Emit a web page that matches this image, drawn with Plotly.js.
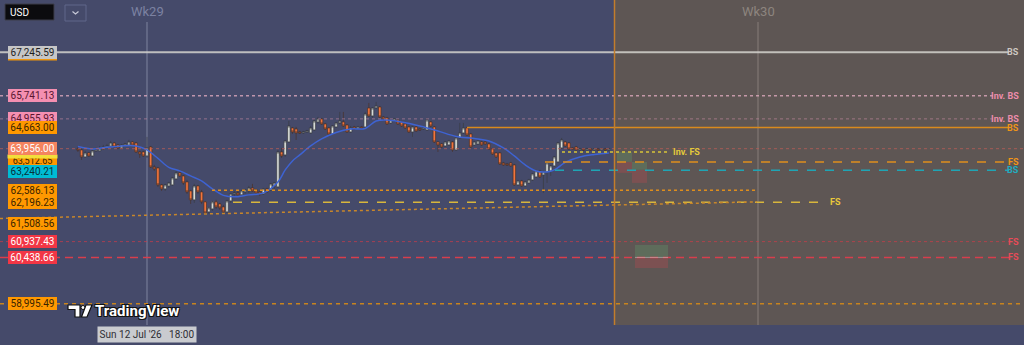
<!DOCTYPE html>
<html>
<head>
<meta charset="utf-8">
<script src="https://cdn.plot.ly/plotly-3.0.1.min.js"></script>
<style>
html,body{margin:0;padding:0;background:#454a6a;overflow:hidden;}
#chart{width:1024px;height:345px;}
</style>
</head>
<body>
<div id="chart"></div>
<script>
// ---------------- DATA ----------------
// hourly candles, first bar Sat 11 Jul 2026 23:00 (week 29 starts Sun 12 Jul 18:00)
const firstBar = '2026-07-11 23:00';
const weekStarts = ['2026-07-12 18:00', '2026-07-19 18:00'];
const weekLabels = ['Wk29', 'Wk30'];

const openP = [63948,63915,63683,63816,63716,63882,63882,63948,64015,64048,64148,64082,63982,64082,64082,64181,64148,63849,63849,
63716,64015,63353,63320,62763,62633,62730,62763,62959,63156,
63057,62861,62567,62275,62730,62535,62211,61888,61984,62211,
62146,62049,61888,62243,62470,62502,62438,62535,62567,62665,
62600,62535,62470,62633,62600,62730,62698,63849,63749,64181,
64651,64617,64516,64483,64516,64483,64583,64853,64954,64785,
64651,64449,64684,64819,64853,64752,64516,64684,64617,64684,
64684,65326,65055,65326,65360,65021,64988,64819,64886,64920,
64853,64785,64684,64516,64684,64617,64617,64583,64853,64684,
64181,64115,64048,64082,64181,63915,64315,64483,64651,64449,
64082,64115,64181,64181,64115,63948,63816,63816,63485,63452,
63485,63419,62763,62893,62730,62828,62926,63024,63221,63090,
63188,63221,63386,63518,63982,64181,64148,63982,64015,63915,
63948,63915,63948,63915,63948,63915,63948,63915];
const highP = [64015,63948,63882,63849,63948,63982,64048,64082,64115,64215,64181,64115,64115,64148,64248,64215,64181,63882,63882,
64349,64048,63419,63353,62796,62796,62861,63024,63221,63188,
63090,62926,62600,62796,62763,62600,62243,62049,62243,62275,
62178,62114,62275,62502,62567,62567,62600,62633,62730,62796,
62633,62567,62665,62665,62828,62861,63915,63982,64248,64886,
64684,64684,64550,64550,64583,64718,64954,65021,64988,64819,
64684,64752,64853,65190,65190,64785,64718,64718,64718,64718,
65190,65496,65360,65530,65394,65055,65021,64954,64988,64954,
64886,64819,64718,64718,64718,64651,64684,64988,64886,64718,
64215,64148,64215,64248,64215,64349,64819,64819,64684,64483,
64215,64248,64215,64215,64148,63982,63849,63849,63518,63485,
63518,63452,62926,62926,62893,62959,63156,63254,63254,63221,
63518,63419,63716,64181,64315,64215,64181,64015,64048,63982,
63982,63982,63982,63982,63982,63982,63982,63982];
const lowP = [63849,63584,63650,63683,63683,63849,63882,63915,63982,64015,63982,63948,63948,64048,64048,64048,63816,63650,63683,
63650,63320,63221,62698,62567,62567,62665,62730,62926,63024,
62763,62470,62146,62178,62470,62146,61791,61823,61920,61984,
61952,61855,61855,62178,62405,62405,62405,62470,62502,62535,
62470,62405,62438,62502,62567,62633,62665,63650,63683,64148,
64449,64248,64449,64449,64483,64449,64550,64785,64752,64583,
64382,64416,64651,64785,64684,64483,64483,64583,64583,64617,
64651,65021,64988,65292,64988,64886,64752,64785,64853,64752,
64684,64617,64483,64349,64516,64550,64583,64550,64684,64148,
63849,63982,64015,64048,63849,63882,64282,64449,64382,63982,
64048,64082,64048,64082,63915,63749,63650,63419,63386,63386,
63353,62730,62730,62698,62698,62796,62893,62992,62992,62502,
62828,63057,63353,63485,63948,64015,63915,63915,63882,63882,
63882,63915,63882,63882,63882,63915,63882,63882];
const closeP = [63915,63683,63816,63716,63882,63915,63948,64015,64048,64148,64015,63982,64082,64115,64181,64082,63849,63782,63716,
63982,63353,63287,62763,62633,62763,62828,62992,63156,63057,
62828,62535,62275,62730,62535,62211,61855,62017,62211,62049,
62017,61888,62243,62470,62502,62438,62567,62600,62665,62567,
62502,62470,62633,62535,62796,62828,63849,63716,64215,64718,
64516,64483,64483,64516,64550,64651,64886,64954,64785,64617,
64449,64718,64819,64886,64718,64516,64651,64617,64684,64651,
65123,65055,65326,65394,65021,64954,64785,64920,64954,64785,
64718,64651,64516,64684,64550,64583,64651,64920,64718,64181,
64082,64015,64181,64215,63915,64315,64483,64651,64416,64015,
64181,64215,64082,64115,63948,63782,63683,63452,63419,63419,
63386,62763,62893,62730,62861,62926,63123,63221,63024,63188,
63485,63386,63683,64148,64248,64048,63948,63948,63915,63948,
63915,63948,63915,63948,63915,63948,63915,63948];

// moving average (hours from week-29 start) and values
const maHours = [-19,-15,-11,-7,-3,0,3,6,9,12,15,18,21,24,28,32,36,38,40,42,45,48,52,56,60,63,66,70,75,80,85,90,94,98,101,104,107,110,112,115,119,123,127];
const maValues = [64032,63948,64005,64048,64048,63915,63634,63337,63221,63057,62893,62633,62422,62373,62438,62502,62861,63254,63551,63749,64048,64282,64500,64617,64634,64886,64920,64853,64718,64550,64366,64299,64215,63982,63716,63419,63221,63188,63254,63502,63683,63766,63816];

// horizontal levels
const levelPrices = [67245.59, 65741.13, 64955.93, 64663.00, 63956.00, 63512.65, 63240.21, 62586.13, 62196.23, 61508.56, 60937.43, 60438.66, 58995.49];
const levelTags   = ['BS', 'Inv. BS', 'Inv. BS', 'BS', '', 'FS', 'BS', '', 'FS', '', 'FS', 'FS', ''];
const invFsPrice = 63850;
const invFsTag = 'Inv. FS';
const trendPrices = [61676, 62211];
const zonePrices = [[63849,63518],[63518,63156],[63518,63254],[63254,62828],[60833,60439],[60439,60110]];
const currencyLabel = 'USD';
const crosshairLabel = "Sun 12 Jul '26   18:00";
const brandText = 'TradingView';

// ---------------- LAYOUT HELPERS ----------------
const W = 1024, PH = 325, HOUR = 3600000;
const Y_RANGE = [4.766045, 4.839482];
const PX_PER_HOUR = 611 / 168;
const px = x => x / W;
const py = y => (PH - y) / PH;
const pp = v => (Math.log10(v) - Y_RANGE[0]) / (Y_RANGE[1] - Y_RANGE[0]);   // price -> paper y
function toMs(s){ const [d,t]=s.split(' '); const [Y,M,D]=d.split('-').map(Number); const [h,m]=t.split(':').map(Number); return Date.UTC(Y,M-1,D,h,m); }
function fmt(ms){ const d=new Date(ms); const p=n=>String(n).padStart(2,'0');
  return `${d.getUTCFullYear()}-${p(d.getUTCMonth()+1)}-${p(d.getUTCDate())} ${p(d.getUTCHours())}:${p(d.getUTCMinutes())}:${p(d.getUTCSeconds())}`; }
const T0 = toMs(weekStarts[0]);
const firstMs = toMs(firstBar);
const barTimes = openP.map((_, i) => fmt(firstMs + i * HOUR));
const maTimes = maHours.map(h => fmt(T0 + h * HOUR));
const xRange = [fmt(T0 - 147 / PX_PER_HOUR * HOUR), fmt(T0 + (W - 147) / PX_PER_HOUR * HOUR)];

// styles for each level
const levelStyle = [
  {c:'rgba(212,210,206,0.85)', d:'solid', w:2,   x0:0,   x1:1009, bg:'#c6c6c6', fg:'#1e1e1e', tc:'#cdc8c2'},
  {c:'rgba(232,176,196,0.75)', d:'dot',   w:1.5, x0:0,   x1:996,  bg:'#f48fb1', fg:'#5a1630', tc:'#ec8dac'},
  {c:'rgba(200,140,165,0.6)',  d:'dot',   w:1,   x0:0,   x1:996,  bg:'#f48fb1', fg:'#5a1630', tc:'#ec8dac'},
  {c:'#d98a1c',                d:'solid', w:1.5, x0:467, x1:1009, bg:'#ff9800', fg:'#3a2400', tc:'#ee9418'},
  {c:'rgba(190,95,85,0.75)',   d:'dot',   w:1,   x0:0,   x1:1024, bg:'#f4845f', fg:'#ffffff', tc:''},
  {c:'#df8f1c',                d:'dash',  w:1.5, x0:545, x1:1009, bg:'#ff9800', fg:'#3a2400', tc:'#ee9418', fs:9, ys:1.5, h:8},
  {c:'#1fa5b5',                d:'dash',  w:1.5, x0:555, x1:1009, bg:'#00bcd4', fg:'#06303a', tc:'#22adc0', ys:-1},
  {c:'#df8e1c',                d:'dot',   w:1.5, x0:212, x1:757,  bg:'#ff9800', fg:'#3a2400', tc:''},
  {c:'#d8b63c',                d:'dash',  w:1.5, x0:233, x1:825,  bg:'#ff9800', fg:'#3a2400', tc:'#e8c83a', tx:828},
  null,
  {c:'rgba(210,60,72,0.7)',    d:'dot',   w:1,   x0:0,   x1:1010, bg:'#f23645', fg:'#ffffff', tc:'#e64b58'},
  {c:'#d83e4c',                d:'8px,5px', w:1.5, x0:0, x1:1010, bg:'#f23645', fg:'#ffffff', tc:'#e64b58'},
  {c:'#c8841e',                d:'4px,4px', w:1.5, x0:0, x1:1024, bg:'#ff9800', fg:'#3a2400', tc:''}
];
const labelBg9 = {bg:'#ff9800', fg:'#3a2400'};

// ---------------- TRACES ----------------
const traces = [
  {
    type:'candlestick', x:barTimes, open:openP, high:highP, low:lowP, close:closeP,
    increasing:{fillcolor:'#d6dad6', line:{color:'#3a3c42', width:0.7}},
    decreasing:{fillcolor:'#f2743c', line:{color:'#4a322a', width:0.7}},
    whiskerwidth:0, hoverinfo:'skip'
  },
  {
    type:'scatter', mode:'lines', x:maTimes, y:maValues,
    line:{color:'#3e63d2', width:1.5, shape:'spline', smoothing:1}, hoverinfo:'skip'
  }
];

// ---------------- SHAPES ----------------
const shapes = [];
const P = 'paper';
shapes.push({type:'rect', xref:P, yref:P, x0:px(614.5), x1:1, y0:0, y1:1, fillcolor:'#5e5654', line:{width:0}, layer:'below'});
const zoneX = [[617,632],[617,632],[632,647],[632,647],[635,668],[635,668]];
zonePrices.forEach((z, i) => {
  shapes.push({type:'rect', xref:P, yref:P, x0:px(zoneX[i][0]), x1:px(zoneX[i][1]), y0:pp(z[0]), y1:pp(z[1]),
    fillcolor: i % 2 === 0 ? 'rgba(95,150,105,0.35)' : 'rgba(205,70,80,0.28)', line:{width:0}, layer:'below'});
});
weekStarts.forEach((w, i) => {
  shapes.push({type:'line', xref:'x', yref:P, x0:w, x1:w, y0:0, y1:py(22),
    line:{color: i === 0 ? 'rgba(165,170,195,0.6)' : 'rgba(175,165,155,0.5)', width:1}, layer:'below'});
});
levelPrices.forEach((p, i) => {
  const s = levelStyle[i]; if (!s) return;
  shapes.push({type:'line', xref:P, yref:P, x0:px(s.x0), x1:px(s.x1), y0:pp(p), y1:pp(p),
    line:{color:s.c, width:s.w, dash:s.d}});
});
shapes.push({type:'line', xref:P, yref:P, x0:px(562), x1:px(667), y0:pp(invFsPrice), y1:pp(invFsPrice),
  line:{color:'#d8c438', width:1.5, dash:'dot'}});
shapes.push({type:'line', xref:P, yref:P, x0:0, x1:px(757), y0:pp(trendPrices[0]), y1:pp(trendPrices[1]),
  line:{color:'#c8862a', width:1.5, dash:'dot'}});
shapes.push({type:'line', xref:P, yref:P, x0:px(635), x1:px(668), y0:pp(zonePrices[4][1]), y1:pp(zonePrices[4][1]),
  line:{color:'rgba(190,190,190,0.6)', width:1}});
shapes.push({type:'line', xref:P, yref:P, x0:px(614.5), x1:px(614.5), y0:0, y1:1, line:{color:'#c37d2b', width:1.5}});
shapes.push({type:'rect', xref:P, yref:P, x0:px(5), x1:px(54), y0:py(20), y1:py(4), fillcolor:'#0b0b0e', line:{color:'#3c3c48', width:1}});
shapes.push({type:'rect', xref:P, yref:P, x0:px(65), x1:px(86), y0:py(21), y1:py(5), fillcolor:'rgba(0,0,0,0)', line:{color:'#60668a', width:1}});
shapes.push({type:'path', xref:P, yref:P, path:`M ${px(72.5)},${py(11.5)} L ${px(75.5)},${py(14)} L ${px(78.5)},${py(11.5)}`, line:{color:'#c8cad8', width:1.2}});
shapes.push({type:'rect', xref:P, yref:P, x0:px(8), x1:px(57), y0:py(60.5), y1:py(58.8), fillcolor:'#f0960c', line:{width:0}});
shapes.push({type:'path', xref:P, yref:P,
  path:`M ${px(68)},${py(305)} L ${px(80)},${py(305)} L ${px(80)},${py(317)} L ${px(75)},${py(317)} L ${px(75)},${py(309.5)} L ${px(68)},${py(309.5)} Z`,
  fillcolor:'#ffffff', line:{color:'#111', width:1.2}});
shapes.push({type:'circle', xref:P, yref:P, x0:px(81), x1:px(85), y0:py(309.5), y1:py(305.5), fillcolor:'#ffffff', line:{color:'#111', width:1}});
shapes.push({type:'path', xref:P, yref:P,
  path:`M ${px(86)},${py(305)} L ${px(92)},${py(305)} L ${px(87)},${py(317)} L ${px(81.5)},${py(317)} Z`,
  fillcolor:'#ffffff', line:{color:'#111', width:1.2}});

// ---------------- ANNOTATIONS ----------------
const annotations = [];
function priceLabel(i){
  const s = levelStyle[i] || labelBg9;
  annotations.push({xref:P, yref:P, x:px(32.5), y:pp(levelPrices[i]), yshift:s.ys || 0, xanchor:'center', yanchor:'middle',
    text: levelPrices[i].toLocaleString('en-US', {minimumFractionDigits:2, maximumFractionDigits:2}),
    showarrow:false, bgcolor:s.bg, font:{family:'Roboto, Arial, sans-serif', size:s.fs || 10, color:s.fg},
    width:47, height:s.h || 11, borderpad:1, borderwidth:0});
}
[0,1,2,3,5].forEach(priceLabel);
annotations.push({xref:P, yref:P, x:px(32.5), y:py(156.6), xanchor:'center', yanchor:'middle', text:' ',
  showarrow:false, bgcolor:'#f2df3a', font:{size:1, color:'#f2df3a'}, width:49, height:3, borderpad:0});
[4,6,7,8,9,10,11,12].forEach(priceLabel);

levelPrices.forEach((p, i) => {
  const s = levelStyle[i]; if (!s || !levelTags[i]) return;
  annotations.push({xref:P, yref:P, x: s.tx ? px(s.tx) : px(1021), y:pp(p), xanchor: s.tx ? 'left' : 'right', yanchor:'middle',
    text:levelTags[i], showarrow:false, font:{family:'Roboto, Arial, sans-serif', size:9, color:s.tc, weight:'bold'}});
});
annotations.push({xref:P, yref:P, x:px(671), y:pp(invFsPrice), xanchor:'left', yanchor:'middle', text:invFsTag,
  showarrow:false, font:{family:'Roboto, Arial, sans-serif', size:9, color:'#e2c93a', weight:'bold'}});

weekStarts.forEach((w, i) => {
  annotations.push({xref:'x', yref:P, x:w, y:py(11), xanchor:'center', yanchor:'middle', text:weekLabels[i], showarrow:false,
    font:{family:'Roboto, Arial, sans-serif', size:13, color: i === 0 ? '#7c82a2' : '#8d857f'}});
});
annotations.push({xref:P, yref:P, x:px(8), y:py(12), xanchor:'left', yanchor:'middle', text:currencyLabel, showarrow:false,
  font:{family:'Roboto, Arial, sans-serif', size:10, color:'#ffffff'}});
annotations.push({xref:'x', yref:P, x:weekStarts[0], y:py(334), xanchor:'center', yanchor:'middle', text:crosshairLabel, showarrow:false,
  bgcolor:'#c9cbcf', font:{family:'Roboto, Arial, sans-serif', size:10, color:'#2e2e34'}, width:96, height:13, borderpad:1});
annotations.push({xref:P, yref:P, x:px(93), y:py(311), xanchor:'left', yanchor:'middle', text:brandText, showarrow:false,
  font:{family:'Roboto, Arial, sans-serif', size:15, color:'#ffffff', weight:'bold',
        shadow:'1px 1px 0 #111, -1px -1px 0 #111, 1px -1px 0 #111, -1px 1px 0 #111'}});

const layout = {
  width:1024, height:345, margin:{l:0, r:0, t:0, b:20},
  paper_bgcolor:'#454a6a', plot_bgcolor:'#454a6a',
  showlegend:false, hovermode:false, dragmode:false, boxgap:0,
  xaxis:{type:'date', range:xRange, visible:false, rangeslider:{visible:false}, fixedrange:true},
  yaxis:{type:'log', range:Y_RANGE, visible:false, fixedrange:true},
  shapes:shapes, annotations:annotations
};
Plotly.newPlot('chart', traces, layout, {staticPlot:true, displayModeBar:false});
</script>
</body>
</html>
